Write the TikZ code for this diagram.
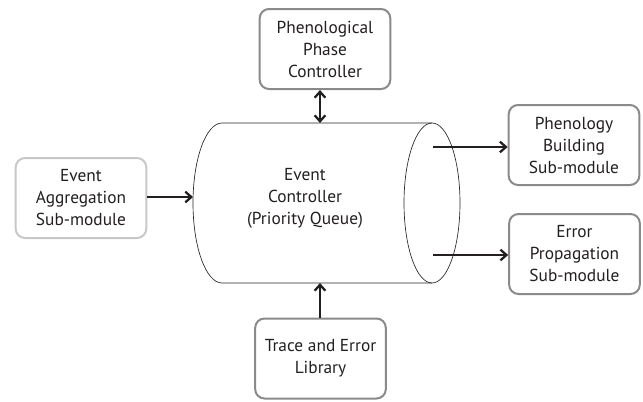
\documentclass[tikz,border=0pt]{standalone}
\usepackage{fontspec}
\setmainfont{PT Sans}
\usepackage{xcolor}
\usepackage{tikz}
\usetikzlibrary{arrows.meta, positioning}
\definecolor{inkdark}{HTML}{231F20}
\definecolor{boxgray}{HTML}{8A8A8A}
\definecolor{boxlight}{HTML}{C8C8C8}
\tikzset{module/.style={rectangle, rounded corners=7pt, draw=boxgray, line width=1.5pt, fill=white, align=center, text=inkdark, minimum width=98pt, minimum height=60pt, inner sep=2pt, font=\fontsize{13}{16.5}\selectfont},
  flow/.style={draw=inkdark, line width=1.7pt, -{Straight Barb[length=4.5pt,width=8pt]}},
  twoway/.style={draw=inkdark, line width=1.7pt, {Straight Barb[length=4.5pt,width=8pt]}-{Straight Barb[length=4.5pt,width=8pt]}}}

\begin{document}
\begin{tikzpicture}[x=0.75pt, y=-0.75pt]
                \useasboundingbox (0,0) rectangle (643,401);

                % queue drawn as a cylinder
                \draw[black!85, line width=0.5pt] (432,123) -- (222,123) arc[start angle=-90, end angle=-270, x radius=29, y radius=80] -- (432,283);
                \draw[black!85, line width=0.5pt] (432,203) ellipse [x radius=28, y radius=80];
                \node[align=center, text=inkdark, font=\fontsize{13}{16.5}\selectfont] (ctrl) at (305,198) {Event\\Controller\\(Priority Queue)};

                \coordinate (ctrlN) at (320,123);
                \coordinate (ctrlS) at (320,283);
                \coordinate (ctrlW) at (193,197);
                \coordinate (outA) at (433,147);
                \coordinate (outB) at (433,255);

                % modules
                \node[module] (phase) at (325,49) {Phenological\\Phase\\Controller};
                \node[module, draw=boxlight] (agg) at (81,198) {Event\\Aggregation\\Sub-module};
                \node[module] (build) at (574,145) {Phenology\\Building\\Sub-module};
                \node[module] (errprop) at (574.5,254) {Error\\Propagation\\Sub-module};
                \node[module] (trace) at (320.5,358.5) {Trace and Error\\Library};

                % connectors
                \draw[twoway] (ctrlN |- phase.south) -- (ctrlN);
                \draw[flow] (agg.east |- ctrlW) -- (ctrlW);
                \draw[flow] (ctrlS |- trace.north) -- (ctrlS);
                \draw[flow] (outA) -- (outA -| build.west);
                \draw[flow] (outB) -- (outB -| errprop.west);

\end{tikzpicture}
\end{document}
